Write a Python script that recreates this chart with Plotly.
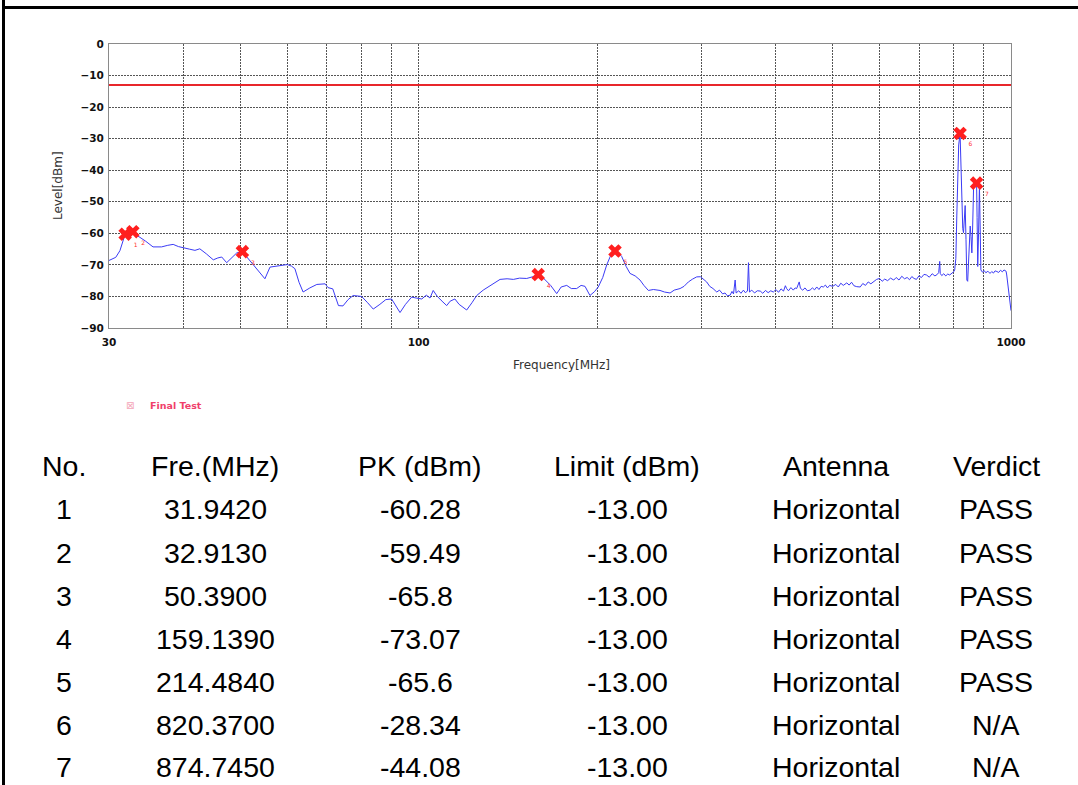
import math
import plotly.graph_objects as go

# Radiated spurious emission sweep, horizontal antenna
freq_mhz = [
    30.0, 30.8, 31.3, 31.7, 31.94, 32.3, 32.6, 32.91, 33.3, 33.8, 34.6, 35.6, 36.8, 37.7, 38.5,
    39.3, 40.0, 41.0, 41.9, 42.7, 43.8, 45.0, 45.8, 46.5, 47.4, 48.3, 49.3, 50.39, 51.0, 51.9,
    53.6, 55.0, 56.1, 58.3, 60.0, 61.0, 61.8, 62.8, 63.8, 65.5, 67.3, 69.5, 70.3, 71.6, 73.2,
    74.5, 76.0, 77.5, 80.1, 82.0, 83.8, 86.0, 88.0, 90.0, 91.5, 93.0, 95.0, 97.3, 99.0, 101.2,
    103.0, 104.5, 105.8, 107.5, 109.5, 111.5, 113.0, 115.1, 117.0, 120.5, 123.0, 125.3, 128.5, 132.0, 137.2,
    141.0, 144.5, 148.0, 152.2, 155.5, 159.14, 162.0, 164.5, 167.0, 171.0, 174.0, 177.8, 181.0, 184.8, 188.0,
    190.9, 194.6, 198.0, 201.0, 204.5, 207.7, 211.8, 214.48, 217.0, 220.1, 224.0, 227.4, 232.0, 236.4, 240.0,
    244.2, 249.0, 255.5, 260.0, 265.7, 270.0, 276.2, 280.5, 285.3, 290.0, 294.7, 299.0,
    303, 306.3, 310, 314, 318.6, 322, 326, 329, 332, 335.6, 338, 340, 342.2, 343.5, 347,
    350, 353.4, 356, 359, 360.4, 361.8, 365, 369, 373, 377.3, 381, 385, 389, 393, 396.9,
    401, 405, 409, 413, 416, 418, 421, 425, 429, 432, 434.6, 437, 439, 441, 445,
    449, 453, 457.9, 462, 466, 470, 474, 478, 482.2, 486, 490, 494, 500, 506, 511,
    516, 521, 528.2, 533, 538, 543, 549, 556.5, 562, 568, 574, 580, 586.4, 593, 600,
    606, 612, 619, 626, 633.9, 640, 647, 654, 661, 667.9, 674, 680, 686, 692.4, 699,
    706, 713, 720, 728, 736, 744, 751, 755, 758, 759.5, 764, 770, 776, 782, 788,
    795, 800, 803.4, 807, 810, 813, 816, 820.37, 823, 826, 829, 831.4, 834, 836.8, 839.5,
    842.3, 845, 847.8, 851, 853.3, 856, 858.9, 861.5, 864.5, 868, 871.5, 874.745, 876.5, 878.7, 881.5,
    884.5, 887, 889.5, 895, 901, 907, 914, 921.6, 928, 934, 940, 946.5, 953, 960, 967,
    973, 977.7, 981, 983.5, 988, 993, 1000,
]
level_dbm = [
    -68.6, -67.6, -65.5, -62.0, -60.3, -60.8, -60.0, -59.5, -60.4, -61.2, -62.5, -64.3, -64.3, -63.8, -63.5,
    -64.2, -64.6, -65.0, -65.4, -64.9, -66.5, -68.4, -67.8, -67.5, -69.3, -67.8, -66.2, -65.8, -67.0, -68.6,
    -71.7, -74.4, -70.7, -70.2, -69.9, -70.4, -71.2, -75.5, -78.6, -77.3, -76.2, -76.0, -77.2, -77.6, -82.9,
    -83.0, -81.0, -79.7, -80.0, -82.0, -84.0, -82.5, -81.0, -80.8, -83.0, -85.1, -82.5, -80.2, -80.5, -80.8,
    -79.6, -80.5, -78.1, -80.0, -81.5, -82.9, -81.5, -80.8, -82.5, -84.3, -82.0, -79.7, -78.0, -76.5, -74.6,
    -74.4, -74.6, -74.2, -74.3, -73.8, -73.07, -74.0, -75.4, -76.5, -79.1, -77.0, -76.5, -77.5, -77.5, -76.5,
    -76.8, -79.7, -78.5, -77.0, -74.0, -70.0, -66.2, -65.6, -66.0, -67.3, -70.5, -72.7, -73.5, -74.8, -76.5,
    -78.1, -77.8, -78.1, -78.6, -78.9, -78.0, -77.5, -76.8, -75.4, -74.5, -73.8, -73.75,
    -74.6, -75.4, -76.8, -77.5, -78.6, -78.0, -79.2, -78.9, -79.8, -79.6, -78.4, -79.2, -74.8, -78.9, -78.2,
    -79.0, -78.0, -78.8, -78.3, -69.3, -78.6, -78.0, -78.9, -78.2, -78.3, -79.0, -78.1, -78.8, -78.2, -78.6,
    -77.8, -78.7, -77.6, -78.3, -76.6, -77.5, -78.2, -77.2, -78.0, -77.3, -77.5, -76.0, -75.4, -77.4, -78.0,
    -77.3, -78.2, -78.0, -77.3, -77.9, -77.0, -77.8, -76.8, -77.0, -76.4, -77.3, -76.5, -76.8, -76.2, -77.0,
    -75.8, -76.5, -75.7, -76.4, -75.5, -76.6, -76.9, -77.0, -75.9, -76.5, -75.4, -76.0, -75.4, -74.6, -74.3,
    -75.2, -74.5, -75.0, -74.2, -74.8, -74.0, -74.8, -73.6, -74.4, -74.0, -74.7, -73.7, -74.3, -74.6, -73.5,
    -74.0, -73.0, -73.2, -73.9, -72.8, -73.5, -73.0, -72.4, -68.9, -72.7, -73.4, -72.8, -73.5, -72.9, -73.2,
    -72.7, -72.2, -71.6, -68.0, -54.5, -40.0, -32.0, -28.34, -40.0, -52.3, -58.5, -59.8, -55.0, -51.2, -62.0,
    -74.8, -75.2, -69.5, -62.0, -57.7, -61.0, -66.2, -58.0, -45.9, -44.6, -44.3, -44.08, -55.0, -70.5, -60.0,
    -44.8, -58.0, -71.6, -72.3, -71.8, -72.5, -72.0, -72.7, -72.1, -72.6, -71.9, -72.1, -72.4, -71.7, -72.2,
    -71.6, -71.8, -72.0, -73.2, -76.0, -79.5, -84.5,
]

limit_dbm = -13.0
limit_span_mhz = [30, 1000]

# Final test points
peak_no = ["1", "2", "3", "4", "5", "6", "7"]
peak_freq = [31.9420, 32.9130, 50.3900, 159.1390, 214.4840, 820.3700, 874.7450]
peak_freq_txt = ["31.9420", "32.9130", "50.3900", "159.1390", "214.4840", "820.3700", "874.7450"]
peak_level_txt = ["-60.28", "-59.49", "-65.8", "-73.07", "-65.6", "-28.34", "-44.08"]
peak_level = [float(v) for v in peak_level_txt]
limit_txt = ["-13.00"] * 7
antenna = ["Horizontal"] * 7
verdict = ["PASS", "PASS", "PASS", "PASS", "PASS", "N/A", "N/A"]
table_header = ["No.", "Fre.(MHz)", "PK (dBm)", "Limit (dBm)", "Antenna", "Verdict"]

x_gridvals = [30, 40, 50, 60, 70, 80, 90, 100, 200, 300, 400, 500, 600, 700, 800, 900, 1000]
x_labels = {30: "30", 100: "100", 1000: "1000"}
y_ticks = [0, -10, -20, -30, -40, -50, -60, -70, -80, -90]

W, H = 1078, 785
L, R, T, B = 109, 67, 44, 457
PW, PH = W - L - R, H - T - B


def px(x):
    return (x - L) / PW


def py(y):
    return (H - B - y) / PH


fig = go.Figure()

fig.add_trace(go.Scatter(
    x=limit_span_mhz, y=[limit_dbm, limit_dbm], mode="lines",
    line=dict(color="#e8262b", width=2), hoverinfo="skip", showlegend=False,
))
fig.add_trace(go.Scatter(
    x=freq_mhz, y=level_dbm, mode="lines",
    line=dict(color="#3b3bf5", width=1), showlegend=False, name="Level",
))
fig.add_trace(go.Scatter(
    x=peak_freq, y=peak_level, mode="markers+text", name="Final Test",
    marker=dict(symbol="x", size=12, color="#ff1f1f", line=dict(width=0)),
    text=peak_no, textposition="bottom right",
    textfont=dict(size=6, color="#ff3030", family="DejaVu Sans"),
    showlegend=False,
))

tick_font = dict(family="DejaVu Sans", size=10.5, color="#111111", weight="bold")
fig.update_xaxes(
    type="log", range=[math.log10(30), math.log10(1000)],
    tickmode="array", tickvals=x_gridvals,
    ticktext=[x_labels.get(v, "") for v in x_gridvals],
    tickfont=tick_font, ticks="outside", ticklen=4, tickcolor="rgba(0,0,0,0)",
    showgrid=True, gridcolor="#555555", griddash="2px,1px", gridwidth=1,
    showline=True, linecolor="#8a8a8a", linewidth=1, mirror=True, zeroline=False,
)
fig.update_yaxes(
    range=[-90, 0], tickmode="array", tickvals=y_ticks,
    tickfont=tick_font, ticks="outside", ticklen=2, tickcolor="rgba(0,0,0,0)",
    showgrid=True, gridcolor="#555555", griddash="2px,1px", gridwidth=1,
    showline=True, linecolor="#8a8a8a", linewidth=1, mirror=True, zeroline=False,
)


def note(x, y, text, font, xanchor="center", yanchor="middle", **kw):
    return dict(x=px(x), y=py(y), xref="paper", yref="paper", text=text,
                showarrow=False, font=font, xanchor=xanchor, yanchor=yanchor, **kw)


ann = []
ann.append(note(58, 186, "Level[dBm]", dict(family="DejaVu Sans", size=12, color="#333333"),
                textangle=-90))
ann.append(note(561, 365, "Frequency[MHz]", dict(family="DejaVu Sans", size=12, color="#333333")))
ann.append(note(130, 405, "⊠", dict(family="DejaVu Sans", size=10, color="#f4a6b8")))
ann.append(note(148, 405, "Final Test",
                dict(family="DejaVu Sans", size=9.5, color="#f0406a", weight="bold"),
                xanchor="left"))

col_x = [64, 215, 420, 627, 836, 996]
row_y = [466, 509, 553, 596, 639, 682, 725, 767]
cell_font = dict(family="Liberation Sans", size=28.5, color="#000000")
rows = [table_header] + [
    [peak_no[i], peak_freq_txt[i], peak_level_txt[i], limit_txt[i], antenna[i], verdict[i]]
    for i in range(7)
]
for r, row in enumerate(rows):
    for c, val in enumerate(row):
        ann.append(note(col_x[c], row_y[r], val, cell_font))

shapes = [
    dict(type="line", xref="paper", yref="paper", x0=px(3.5), x1=px(3.5), y0=py(0), y1=py(H),
         line=dict(color="#000000", width=3)),
    dict(type="line", xref="paper", yref="paper", x0=px(2), x1=px(W), y0=py(7.5), y1=py(7.5),
         line=dict(color="#000000", width=3)),
]

fig.update_layout(
    width=W, height=H, margin=dict(l=L, r=R, t=T, b=B, pad=0),
    paper_bgcolor="white", plot_bgcolor="white",
    annotations=ann, shapes=shapes, showlegend=False,
)

fig.write_html("out.html")
